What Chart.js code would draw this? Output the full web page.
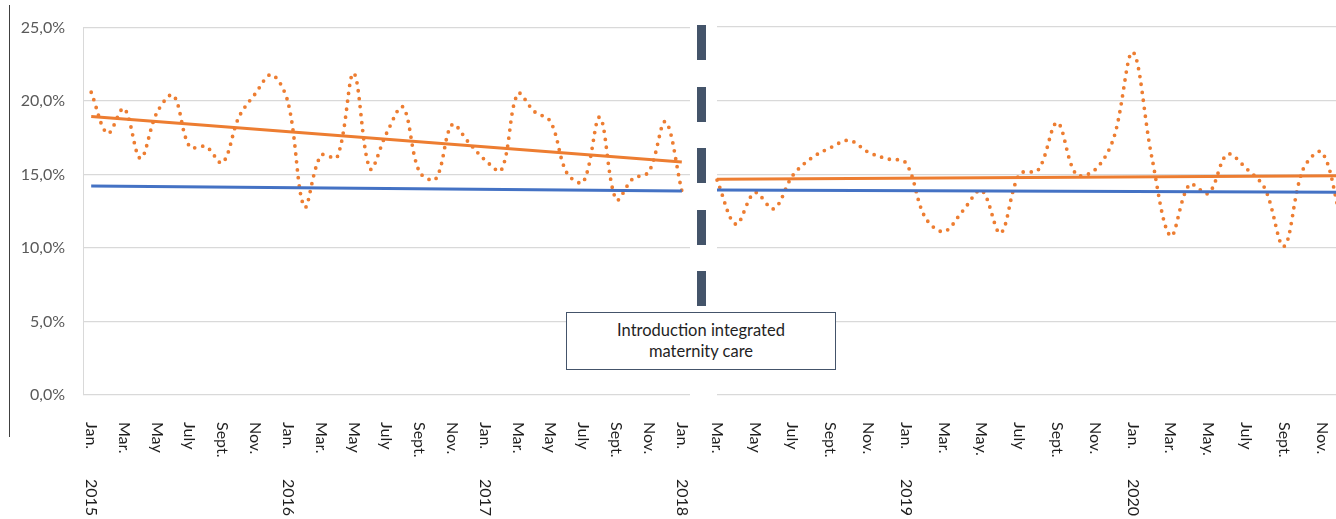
<!DOCTYPE html>
<html>
<head>
<meta charset="utf-8">
<script src="https://cdn.jsdelivr.net/npm/chart.js@4.4.1/dist/chart.umd.min.js"></script>
<style>
  html, body { margin: 0; padding: 0; background: #fff; overflow: hidden; }
  body { width: 1336px; height: 519px; position: relative; font-family: Lato, 'Open Sans', sans-serif; }
  #leftWrap { position: absolute; left: 0; top: 0; width: 695px; height: 519px; }
  #rightWrap { position: absolute; left: 712px; top: 0; width: 632px; height: 519px; }
  #frame { position: absolute; left: 9px; top: 5px; width: 0; height: 432px; border-left: 1.5px solid #404040; }
  #divider { position: absolute; left: 697px; top: 25px; width: 9px; height: 282px;
    background: repeating-linear-gradient(to bottom, #44546A 0 35px, transparent 35px 61.5px); }
  #note { position: absolute; left: 566px; top: 312px; width: 270px; height: 58px; box-sizing: border-box;
    border: 1.5px solid #44546A; background: #fff; color: #1f1f1f; font-size: 16.5px; line-height: 21px;
    text-align: center; display: flex; align-items: center; justify-content: center; }
</style>
</head>
<body>
<div id="frame"></div>
<div id="leftWrap"><canvas id="leftChart"></canvas></div>
<div id="rightWrap"><canvas id="rightChart"></canvas></div>
<div id="divider"></div>
<div id="note">Introduction integrated<br>maternity care</div>

<script>
// before the introduction: Jan 2015 - Jan 2018
const leftCategories = [
    'Jan 2015', 'Feb 2015', 'Mar 2015', 'Apr 2015', 'May 2015', 'Jun 2015', 'Jul 2015', 'Aug 2015', 'Sep 2015', 'Oct 2015', 'Nov 2015', 'Dec 2015',
    'Jan 2016', 'Feb 2016', 'Mar 2016', 'Apr 2016', 'May 2016', 'Jun 2016', 'Jul 2016', 'Aug 2016', 'Sep 2016', 'Oct 2016', 'Nov 2016', 'Dec 2016',
    'Jan 2017', 'Feb 2017', 'Mar 2017', 'Apr 2017', 'May 2017', 'Jun 2017', 'Jul 2017', 'Aug 2017', 'Sep 2017', 'Oct 2017', 'Nov 2017', 'Dec 2017',
    'Jan 2018'
];
const leftRate = [
    20.6, 17.8, 19.5, 16.1, 19.2, 20.4, 16.9, 16.9, 15.8, 18.9, 20.5, 21.8,
    19.9, 12.8, 16.3, 16.2, 21.9, 15.4, 17.8, 19.6, 15.2, 14.7, 18.4, 17.2,
    16.0, 15.3, 20.5, 19.3, 18.6, 15.1, 14.5, 18.9, 13.3, 14.7, 15.2, 18.6,
    13.9
];
const leftMonthTicks = [
    'Jan.', '', 'Mar.', '', 'May', '', 'July', '', 'Sept.', '', 'Nov.', '',
    'Jan.', '', 'Mar.', '', 'May', '', 'July', '', 'Sept.', '', 'Nov.', '',
    'Jan.', '', 'Mar.', '', 'May', '', 'July', '', 'Sept.', '', 'Nov.', '',
    'Jan.'
];
const leftYearTicks = [
    '2015', '', '', '', '', '', '', '', '', '', '', '',
    '2016', '', '', '', '', '', '', '', '', '', '', '',
    '2017', '', '', '', '', '', '', '', '', '', '', '',
    '2018'
];
const leftTrend = [18.95, 15.85];     // start, end
const leftReference = [14.22, 13.88];

// after the introduction: Mar 2018 - Dec 2020
const rightCategories = [
    'Mar 2018', 'Apr 2018', 'May 2018', 'Jun 2018', 'Jul 2018', 'Aug 2018', 'Sep 2018', 'Oct 2018', 'Nov 2018', 'Dec 2018',
    'Jan 2019', 'Feb 2019', 'Mar 2019', 'Apr 2019', 'May 2019', 'Jun 2019', 'Jul 2019', 'Aug 2019', 'Sep 2019', 'Oct 2019', 'Nov 2019', 'Dec 2019',
    'Jan 2020', 'Feb 2020', 'Mar 2020', 'Apr 2020', 'May 2020', 'Jun 2020', 'Jul 2020', 'Aug 2020', 'Sep 2020', 'Oct 2020', 'Nov 2020', 'Dec 2020'
];
const rightRate = [
    14.6, 11.6, 13.75, 12.65, 14.9, 16.1, 16.8, 17.3, 16.5, 16.05,
    15.75, 12.1, 11.1, 12.5, 13.9, 11.0, 15.0, 15.3, 18.5, 15.0, 15.3, 17.5,
    23.3, 16.2, 10.8, 14.3, 13.7, 16.35, 15.4, 14.0, 10.1, 15.3, 16.5, 12.0
];
const rightMonthTicks = [
    'Mar.', '', 'May', '', 'July', '', 'Sept.', '', 'Nov.', '',
    'Jan.', '', 'Mar.', '', 'May.', '', 'July', '', 'Sept.', '', 'Nov.', '',
    'Jan.', '', 'Mar.', '', 'May.', '', 'July', '', 'Sept.', '', 'Nov.', ''
];
const rightYearTicks = [
    '', '', '', '', '', '', '', '', '', '',
    '2019', '', '', '', '', '', '', '', '', '', '', '',
    '2020', '', '', '', '', '', '', '', '', '', '', ''
];
const rightTrend = [14.65, 14.89];
const rightReference = [13.93, 13.78];

const ORANGE = '#ED7D31';
const BLUE = '#4472C4';

// labels read top to bottom, so they are drawn by hand
function verticalTicks(months, years) {
    return {
        id: 'verticalTicks',
        afterDraw(chart) {
            const ctx = chart.ctx;
            const xs = chart.scales.x;
            ctx.save();
            ctx.fillStyle = '#1f1f1f';
            ctx.font = '16px Lato';
            ctx.textAlign = 'left';
            ctx.textBaseline = 'middle';
            const put = (txt, x, y) => {
                ctx.save();
                ctx.translate(x, y);
                ctx.rotate(Math.PI / 2);
                ctx.fillText(txt, 0, 0);
                ctx.restore();
            };
            months.forEach((m, i) => { if (m) put(m, xs.getPixelForValue(i), 422); });
            years.forEach((y, i) => { if (y) put(y, xs.getPixelForValue(i), 479); });
            ctx.restore();
        }
    };
}

function lineBetween(cats, ends) {
    return [{ x: cats[0], y: ends[0] }, { x: cats[cats.length - 1], y: ends[1] }];
}

function buildChart(id, cats, rate, trend, reference, months, years, left) {
    return new Chart(document.getElementById(id), {
        type: 'line',
        data: {
            labels: cats,
            datasets: [
                { label: 'Trend', data: lineBetween(cats, trend), borderColor: ORANGE, borderWidth: 3, pointRadius: 0 },
                { label: 'Reference', data: lineBetween(cats, reference), borderColor: BLUE, borderWidth: 3, pointRadius: 0 },
                {
                    label: 'Rate', data: rate, borderColor: ORANGE, borderWidth: 3.8,
                    borderDash: [0, 8], borderCapStyle: 'round', pointRadius: 0, tension: 0.35
                }
            ]
        },
        options: {
            responsive: true,
            maintainAspectRatio: false,
            animation: false,
            layout: { padding: left ? { top: 27, right: 5, left: 0, bottom: 0 } : { top: 27, right: 3.3, left: 5, bottom: 0 } },
            plugins: { legend: { display: false }, tooltip: { enabled: false } },
            scales: {
                x: {
                    offset: left,
                    grid: { display: false },
                    border: { display: false },
                    ticks: { display: false },
                    afterFit: s => { s.height = 124; }
                },
                y: {
                    min: 0,
                    max: 25,
                    ticks: {
                        display: left,
                        stepSize: 5,
                        padding: 18,
                        color: '#595959',
                        font: { family: 'Lato', size: 16 },
                        callback: v => v.toFixed(1).replace('.', ',') + '%'
                    },
                    grid: { color: '#D9D9D9', lineWidth: 1.3, drawTicks: false },
                    border: { display: left, color: '#D9D9D9' },
                    afterFit: s => { s.width = left ? 83 : 0; }
                }
            }
        },
        plugins: [verticalTicks(months, years)]
    });
}

buildChart('leftChart', leftCategories, leftRate, leftTrend, leftReference, leftMonthTicks, leftYearTicks, true);
buildChart('rightChart', rightCategories, rightRate, rightTrend, rightReference, rightMonthTicks, rightYearTicks, false);
</script>
</body>
</html>
